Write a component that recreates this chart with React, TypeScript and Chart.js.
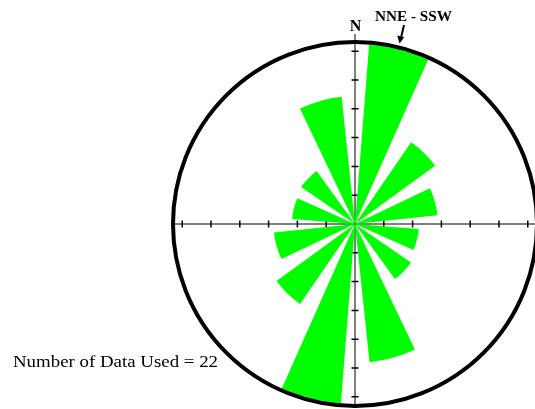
import React, { useEffect, useRef } from "react";
import { Chart, registerables } from "chart.js";

Chart.register(...registerables);

// Petal directions (bin centres, bidirectional rose, 30° bins)
const DIRECTIONS = ["NNE", "NE", "ENE", "ESE", "SE", "SSE", "SSW", "SW", "WSW", "WNW", "NW", "NNW"];
// Petal lengths in radial-scale units
const PETAL_LENGTHS = [6.25, 3.44, 2.88, 2.22, 2.36, 4.83, 6.25, 3.37, 2.83, 2.19, 2.27, 4.44];
const PETAL_WIDTH_DEG = 19.5;
const GAP_DEG = 10.5;
const START_DEG = 4.5;
const TICK_VALUES = [1, 2, 3, 4, 5, 6];
const SCALE_MAX = 6.32;
const DATA_COUNT = 22;
const MAIN_TREND = "NNE - SSW";
const NORTH_LABEL = "N";

const labels = DIRECTIONS.flatMap((d) => [d, ""]);
const values = PETAL_LENGTHS.flatMap((v) => [v, 0]);
const angles = PETAL_LENGTHS.flatMap(() => [PETAL_WIDTH_DEG, GAP_DEG]);

function fitText(ctx: CanvasRenderingContext2D, text: string, x: number, y: number, width: number, font: string) {
  ctx.save();
  ctx.font = font;
  const w = ctx.measureText(text).width;
  ctx.translate(x, y);
  ctx.scale(width / w, 1);
  ctx.textAlign = "left";
  ctx.textBaseline = "alphabetic";
  ctx.fillText(text, 0, 0);
  ctx.restore();
}

const overlay = {
  id: "roseOverlay",
  beforeDatasetsDraw(chart: any) {
    const s = chart.scales.r;
    const ctx: CanvasRenderingContext2D = chart.ctx;
    const cx = s.xCenter;
    const cy = s.yCenter;
    const R = s.drawingArea;
    ctx.save();
    ctx.strokeStyle = "#000";
    ctx.lineWidth = 1;
    ctx.beginPath();
    ctx.moveTo(cx - R, cy);
    ctx.lineTo(cx + R + 10, cy);
    ctx.moveTo(cx, cy - R - 8);
    ctx.lineTo(cx, cy + R);
    ctx.stroke();
    ctx.lineWidth = 1.5;
    ctx.beginPath();
    for (const t of TICK_VALUES) {
      const d = s.getDistanceFromCenterForValue(t);
      for (const sgn of [-1, 1]) {
        ctx.moveTo(cx + sgn * d, cy - 3.5);
        ctx.lineTo(cx + sgn * d, cy + 3.5);
        ctx.moveTo(cx - 3.5, cy + sgn * d);
        ctx.lineTo(cx + 3.5, cy + sgn * d);
      }
    }
    ctx.stroke();
    ctx.restore();
  },
  afterDatasetsDraw(chart: any) {
    const s = chart.scales.r;
    const ctx: CanvasRenderingContext2D = chart.ctx;
    const cx = s.xCenter;
    const cy = s.yCenter;
    const R = s.getDistanceFromCenterForValue(SCALE_MAX);
    ctx.save();
    ctx.strokeStyle = "#000";
    ctx.lineWidth = 4;
    ctx.beginPath();
    ctx.arc(cx, cy, R, 0, Math.PI * 2);
    ctx.stroke();

    ctx.fillStyle = "#000";
    ctx.font = "bold 16px 'Liberation Serif'";
    ctx.textAlign = "center";
    ctx.textBaseline = "alphabetic";
    ctx.fillText(NORTH_LABEL, cx + 0.5, 30.5);

    fitText(ctx, MAIN_TREND, 375, 20.8, 77, "bold 14px 'Liberation Serif'");

    // arrow
    ctx.lineWidth = 2;
    ctx.beginPath();
    ctx.moveTo(404, 25);
    ctx.lineTo(401.2, 37);
    ctx.stroke();
    ctx.beginPath();
    ctx.moveTo(399.6, 43.5);
    ctx.lineTo(397.2, 35.5);
    ctx.lineTo(404.2, 37.2);
    ctx.closePath();
    ctx.fill();

    fitText(ctx, `Number of Data Used = ${DATA_COUNT}`, 13, 366.5, 205, "16px 'Liberation Serif'");
    ctx.restore();
  },
};

export default function App() {
  const ref = useRef<HTMLCanvasElement | null>(null);
  useEffect(() => {
    if (!ref.current) return;
    const chart = new Chart(ref.current, {
      type: "polarArea",
      data: {
        labels,
        datasets: [
          {
            data: values,
            angle: angles,
            backgroundColor: "#00ff00",
            borderWidth: 0,
          } as any,
        ],
      },
      options: {
        responsive: false,
        animation: false,
        layout: { padding: { left: 173, right: 23, top: 42, bottom: 3 } },
        plugins: { legend: { display: false }, tooltip: { enabled: false }, title: { display: false } },
        scales: {
          r: {
            min: 0,
            max: SCALE_MAX,
            startAngle: START_DEG,
            ticks: { display: false },
            grid: { display: false },
            angleLines: { display: false },
            pointLabels: { display: false },
          },
        },
      },
      plugins: [overlay],
    } as any);
    return () => chart.destroy();
  }, []);
  return (
    <div style={{ position: "fixed", left: 0, top: 0, width: 535, height: 409, overflow: "hidden", background: "#fff" }}>
      <canvas ref={ref} width={560} height={409} style={{ display: "block" }} />
    </div>
  );
}
